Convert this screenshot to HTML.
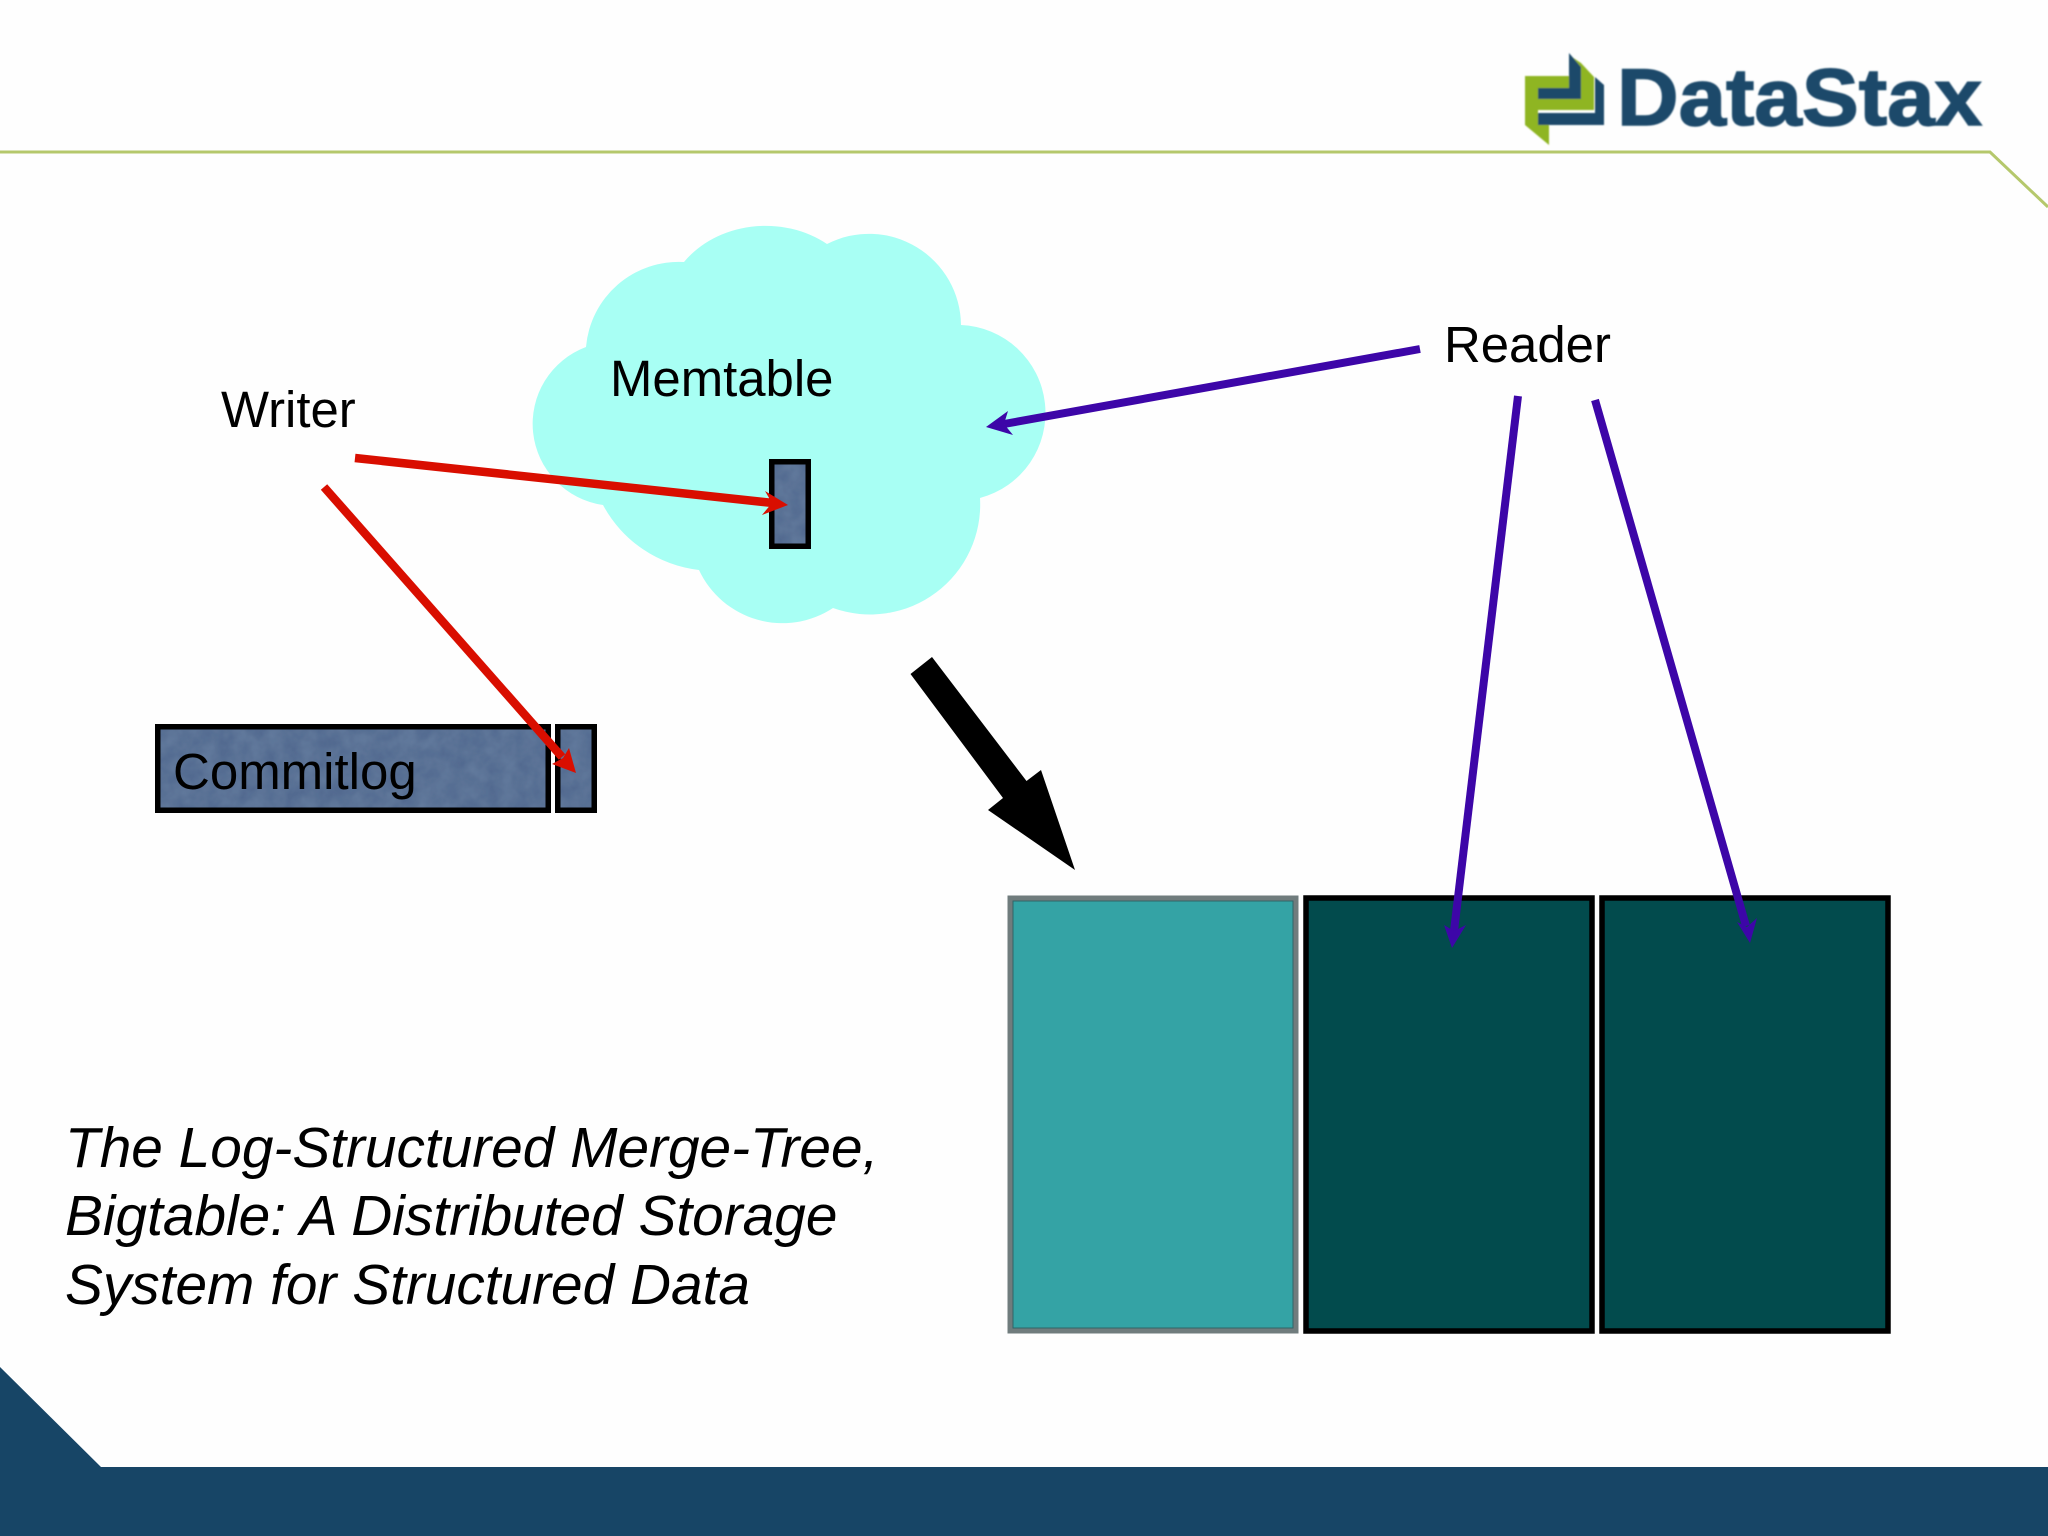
<!DOCTYPE html>
<html><head><meta charset="utf-8"><style>
html,body{margin:0;padding:0;background:#fff;width:2048px;height:1536px;overflow:hidden}
svg{display:block}
text{font-family:"Liberation Sans",sans-serif}
</style></head><body>
<svg width="2048" height="1536" viewBox="0 0 2048 1536" xmlns="http://www.w3.org/2000/svg">
<defs>
<filter id="tex" x="0" y="0" width="100%" height="100%">
<feTurbulence type="fractalNoise" baseFrequency="0.06" numOctaves="3" seed="4"/>
<feColorMatrix values="0 0 0 0 0.2  0 0 0 0 0.3  0 0 0 0 0.45  0.5 0 0 0 -0.1"/>
<feComposite in2="SourceGraphic" operator="in"/>
<feMerge><feMergeNode in="SourceGraphic"/><feMergeNode/></feMerge>
</filter>
<filter id="soft" x="-5%" y="-5%" width="110%" height="110%"><feGaussianBlur stdDeviation="0.9"/></filter>
</defs>
<rect width="2048" height="1536" fill="#fefefe"/>
<!-- header line -->
<polyline points="0,152 1990,152 2048,207" fill="none" stroke="#b5c86c" stroke-width="3"/>
<!-- logo -->
<g filter="url(#soft)">
<polygon points="1525,76 1569,76 1569,55 1581,63 1594,77 1594,110 1538,110 1538,125 1549,125 1549,145 1525,125" fill="#8fb522"/>
<polygon points="1569,53 1581,67 1581,99 1538,99 1538,88 1569,88" fill="#1b4a6b"/>
<polygon points="1595,77 1604,85 1604,125 1538,125 1538,113 1595,113" fill="#1b4a6b"/>
<text x="1617" y="125" font-size="81" font-weight="bold" fill="#1b4a6b" stroke="#1b4a6b" stroke-width="1.5" textLength="365" lengthAdjust="spacingAndGlyphs">DataStax</text>
</g>
<!-- footer -->
<polygon points="0,1367 101,1467 2048,1467 2048,1536 0,1536" fill="#174566"/>
<!-- cloud -->
<path d="M684,262 A100,86 0 0 1 827,244 A92,92 0 0 1 961,325 A88,88 0 0 1 980,498 A110,110 0 0 1 833,608 A92,92 0 0 1 699,570 A125,125 0 0 1 603,505 A82,82 0 0 1 586,347 A93,93 0 0 1 684,262 Z" fill="#a8fff4"/>
<text x="610" y="396" font-size="50.9" fill="#000">Memtable</text>
<text x="221" y="427" font-size="50.9" fill="#000">Writer</text>
<text x="1444" y="362" font-size="50.9" fill="#000">Reader</text>
<!-- memtable mini box -->
<rect x="771" y="461" width="38" height="86" fill="#526b90" filter="url(#tex)"/>
<rect x="771.75" y="461.75" width="36.5" height="84.5" fill="none" stroke="#000" stroke-width="5.5"/>
<!-- commitlog -->
<rect x="157" y="726" width="392" height="85" fill="#526b90" filter="url(#tex)"/>
<rect x="157.75" y="726.75" width="390.5" height="83.5" fill="none" stroke="#000" stroke-width="5.5"/>
<rect x="557" y="726" width="38" height="85" fill="#526b90" filter="url(#tex)"/>
<rect x="557.75" y="726.75" width="36.5" height="83.5" fill="none" stroke="#000" stroke-width="5.5"/>
<text x="173" y="789" font-size="51" fill="#000">Commitlog</text>
<!-- sstable boxes -->
<rect x="1010" y="898" width="286" height="433" fill="#34a3a5" stroke="#707c7d" stroke-width="5"/>
<rect x="1013" y="901" width="280" height="427" fill="none" stroke="#2f6568" stroke-width="1"/>
<rect x="1306" y="898" width="286" height="433" fill="#024b4d" stroke="#000" stroke-width="5.5"/>
<rect x="1602" y="898" width="286" height="433" fill="#024b4d" stroke="#000" stroke-width="5.5"/>
<!-- red arrows -->
<line x1="355" y1="458" x2="773" y2="503" stroke="#d90e00" stroke-width="8.5"/>
<polygon points="788,505 765,491 772,503 762,515" fill="#d90e00"/>
<line x1="324" y1="487" x2="562" y2="757" stroke="#d90e00" stroke-width="8.5"/>
<polygon points="576,773 552,764 563,758 569,748" fill="#d90e00"/>
<!-- blue arrows -->
<line x1="1420" y1="349" x2="1004" y2="424" stroke="#3d06a8" stroke-width="8"/>
<polygon points="986,427 1008,411 1004,424 1013,435" fill="#3d06a8"/>
<line x1="1518" y1="396" x2="1454" y2="931" stroke="#3d06a8" stroke-width="8"/>
<polygon points="1452,948 1444,925 1454,931 1466,925" fill="#3d06a8"/>
<line x1="1595" y1="400" x2="1746" y2="926" stroke="#3d06a8" stroke-width="8"/>
<polygon points="1750,943 1737,922 1747,927 1757,918" fill="#3d06a8"/>
<!-- black arrow -->
<polygon points="932,657 910.5,674 1003,798 988,810 1075,870 1041,770 1026.5,781" fill="#000"/>
<!-- citation -->
<g font-size="56.8" font-style="italic" fill="#000">
<text x="65" y="1167">The Log-Structured Merge-Tree,</text>
<text x="65" y="1235">Bigtable: A Distributed Storage</text>
<text x="65" y="1304">System for Structured Data</text>
</g>
</svg>
</body></html>
